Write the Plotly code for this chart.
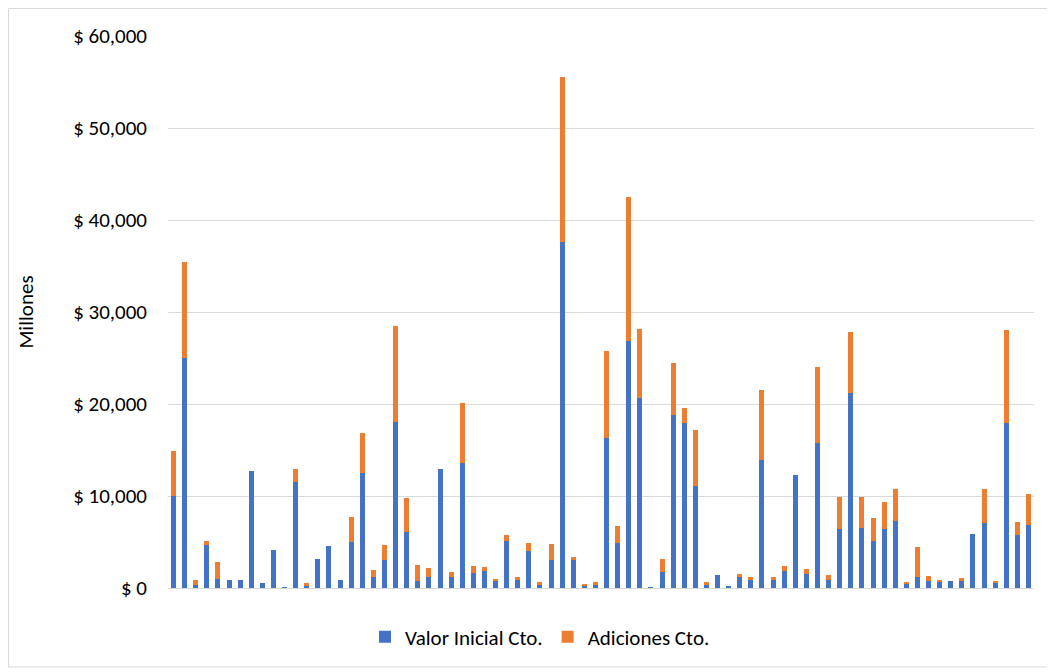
import plotly.graph_objects as go

categories = [str(i) for i in range(1, 79)]

valor_inicial = [
    10000, 25000, 360, 4650, 940, 870, 870, 12720, 540, 4170, 100, 11490, 180, 3150, 4600, 900,
    4960, 12460, 1230, 3000, 18000, 6120, 720, 1160, 12900, 1160, 13550, 1630, 1810, 720, 5070,
    850, 4040, 300, 3040, 37630, 3040, 220, 300, 16290, 4860, 26900, 20700, 100, 1700, 18780, 17920,
    11050, 360, 1450, 180, 1230, 830, 13880, 830, 1810, 12250, 1520, 15760, 900, 6450, 21230,
    6560, 5070, 6450, 7250, 400, 1160, 720, 620, 720, 720, 5830, 7070, 620, 17900, 5800, 6810,
]

adiciones = [
    4900, 10400, 470, 490, 1850, 0, 0, 0, 0, 0, 0, 1410, 400, 0, 0, 0,
    2790, 4390, 690, 1710, 10480, 3630, 1820, 1010, 0, 580, 6520, 800, 510, 290, 690,
    370, 900, 370, 1780, 17950, 340, 150, 400, 9420, 1860, 15590, 7460, 0, 1420, 5640, 1600,
    6160, 290, 0, 0, 330, 400, 7680, 370, 620, 0, 580, 8300, 510, 3410, 6630,
    3300, 2500, 2860, 3470, 290, 3260, 550, 280, 0, 400, 0, 3690, 180, 10140, 1410, 3410,
]

# page body has an 8px default margin; compensate so the screen layout matches
OFF = 8
W, H = 1055 - OFF, 672 - OFF
L, R, T, B = 168 - OFF, 21, 36 - OFF, 84
pw, ph = W - L - R, H - T - B


def px_x(sx):
    """screen x pixel -> paper x"""
    return (sx - OFF - L) / pw


def px_y(sy):
    """screen y pixel -> paper y"""
    return ((H - B) - (sy - OFF)) / ph


fig = go.Figure()
fig.add_trace(go.Bar(x=categories, y=valor_inicial, name="Valor Inicial Cto.",
                     marker=dict(color="#4472C4", line=dict(width=0))))
fig.add_trace(go.Bar(x=categories, y=adiciones, name="Adiciones Cto.",
                     marker=dict(color="#ED7D31", line=dict(width=0))))

font_family = "Calibri, Carlito, Lato, 'Open Sans', sans-serif"
FS = 21

fig.update_layout(
    width=W, height=H,
    barmode="stack",
    bargap=0.55,
    margin=dict(l=L, r=R, t=T, b=B),
    paper_bgcolor="white",
    plot_bgcolor="white",
    font=dict(family=font_family, size=FS, color="#000000"),
    showlegend=True,
    legend=dict(orientation="h", x=px_x(540), xanchor="center",
                y=px_y(637), yanchor="middle",
                font=dict(size=FS, color="#000000"),
                itemsizing="constant", traceorder="normal"),
    xaxis=dict(showticklabels=False, showgrid=False, zeroline=False,
               showline=True, linecolor="#D9D9D9", linewidth=1,
               ticks=""),
    yaxis=dict(range=[0, 60000], dtick=10000, tickprefix="$ ", tickformat=",",
               showgrid=True, gridcolor="#D9D9D9", gridwidth=1,
               zeroline=False, showline=False, ticks="",
               ticklabelstandoff=20,
               title=dict(text="Millones", standoff=33,
                          font=dict(size=FS, color="#000000")),
               tickfont=dict(size=FS, color="#000000")),
    shapes=[dict(type="rect", xref="paper", yref="paper",
                 x0=px_x(8.5), x1=px_x(1048),
                 y0=px_y(667), y1=px_y(8.5),
                 line=dict(color="#D9D9D9", width=1), fillcolor="rgba(0,0,0,0)",
                 layer="below")],
)

fig.write_html("out.html")
